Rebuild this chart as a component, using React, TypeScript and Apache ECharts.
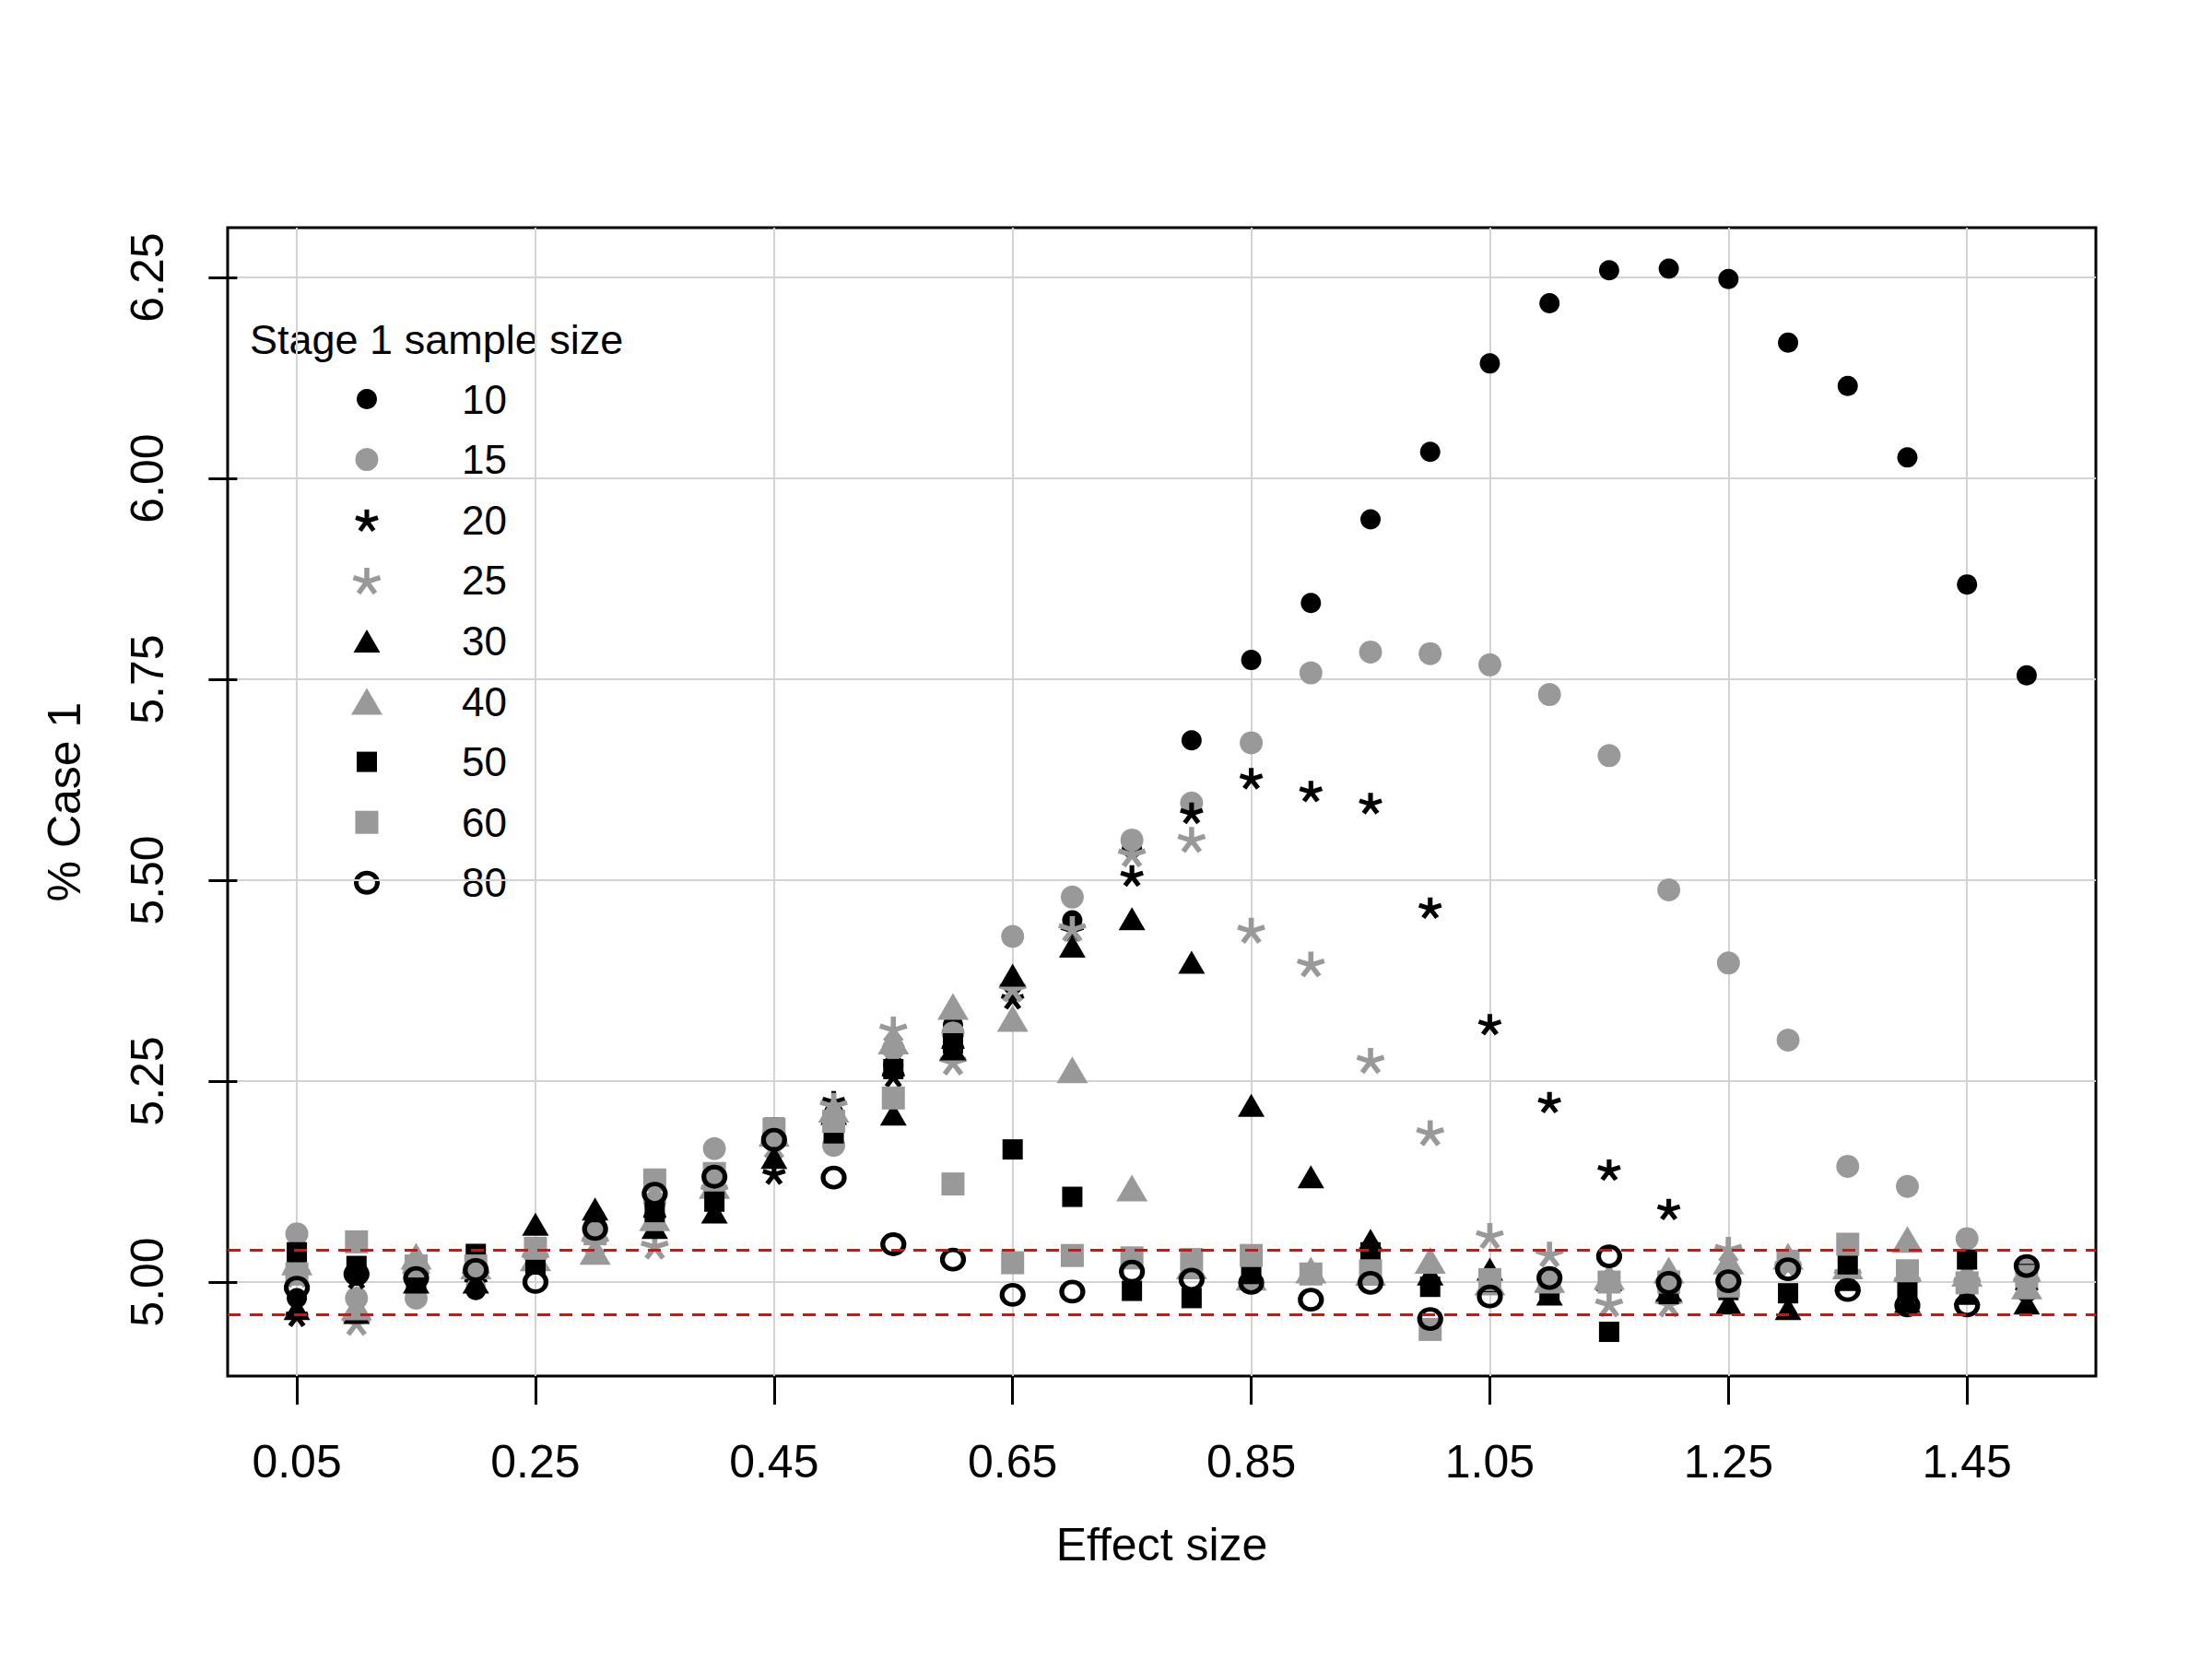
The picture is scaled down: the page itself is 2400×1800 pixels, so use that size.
import React, { useEffect, useRef } from "react";
import * as echarts from "echarts";

// ---- data ----
const effectSizes = [
  0.05, 0.1, 0.15, 0.2, 0.25, 0.3, 0.35, 0.4, 0.45, 0.5,
  0.55, 0.6, 0.65, 0.7, 0.75, 0.8, 0.85, 0.9, 0.95, 1.0,
  1.05, 1.1, 1.15, 1.2, 1.25, 1.3, 1.35, 1.4, 1.45, 1.5,
];
const n10 = [4.98, 5.01, 5.0, 4.99, 5.04, 5.08, 5.1, 5.12, 5.18, 5.21, 5.27, 5.32, 5.37, 5.45, 5.54, 5.674, 5.774, 5.845, 5.949, 6.033, 6.143, 6.218, 6.259, 6.261, 6.248, 6.169, 6.115, 6.026, 5.868, 5.755];
const n15 = [5.06, 4.98, 4.98, 5.01, 5.035, 5.07, 5.1, 5.166, 5.185, 5.17, 5.29, 5.31, 5.43, 5.479, 5.55, 5.596, 5.671, 5.758, 5.784, 5.782, 5.768, 5.731, 5.655, 5.488, 5.397, 5.301, 5.144, 5.119, 5.054, 5.02];
const n20 = [4.958, 5.005, 5.0, 5.0, 5.03, 5.06, 5.08, 5.11, 5.135, 5.225, 5.256, 5.29, 5.353, 5.438, 5.506, 5.584, 5.627, 5.611, 5.596, 5.466, 5.321, 5.224, 5.14, 5.091, 5.04, 5.02, 5.01, 5.0, 5.0, 4.99];
const n25 = [5.01, 4.95, 5.01, 5.01, 5.03, 5.05, 5.045, 5.115, 5.17, 5.22, 5.315, 5.274, 5.365, 5.44, 5.533, 5.551, 5.438, 5.396, 5.276, 5.186, 5.058, 5.035, 4.973, 4.973, 5.041, 5.02, 5.01, 5.0, 5.0, 5.0];
const n30 = [4.967, 4.962, 5.0, 5.0, 5.072, 5.091, 5.068, 5.087, 5.155, 5.21, 5.209, 5.29, 5.382, 5.418, 5.452, 5.398, 5.22, 5.131, 5.052, 5.01, 5.016, 4.985, 5.003, 4.99, 4.974, 4.967, 5.003, 4.976, 4.986, 4.974];
const n40 = [5.025, 4.969, 5.032, 5.02, 5.03, 5.038, 5.08, 5.12, 5.185, 5.215, 5.3, 5.343, 5.328, 5.264, 5.117, 5.02, 5.006, 5.015, 5.012, 5.027, 5.0, 5.003, 5.007, 5.015, 5.026, 5.032, 5.02, 5.053, 5.011, 4.995];
const n50 = [5.037, 5.02, 5.0, 5.035, 5.022, 5.07, 5.087, 5.1, 5.192, 5.185, 5.265, 5.297, 5.165, 5.106, 4.989, 4.98, 5.01, 5.01, 5.037, 4.994, 5.0, 4.99, 4.938, 4.985, 4.99, 4.986, 5.022, 4.988, 5.028, 5.01];
const n60 = [5.01, 5.05, 5.02, 5.02, 5.042, 5.06, 5.127, 5.135, 5.19, 5.2, 5.229, 5.122, 5.024, 5.033, 5.03, 5.028, 5.033, 5.01, 5.014, 4.941, 5.003, 5.0, 5.0, 5.0, 4.995, 5.026, 5.047, 5.014, 4.999, 5.007];
const n80 = [4.993, 5.01, 5.005, 5.015, 5.0, 5.066, 5.11, 5.131, 5.177, 5.13, 5.047, 5.028, 4.984, 4.988, 5.013, 5.003, 4.999, 4.978, 4.999, 4.954, 4.982, 5.005, 5.032, 4.999, 5.001, 5.016, 4.99, 4.971, 4.971, 5.02];

const xTicks = [0.05, 0.25, 0.45, 0.65, 0.85, 1.05, 1.25, 1.45];
const yTicks = [5.0, 5.25, 5.5, 5.75, 6.0, 6.25];
const refLines = [5.042, 4.956];
const groupLabels = ["10", "15", "20", "25", "30", "40", "50", "60", "80"];
const groupData = [n10, n15, n20, n25, n30, n40, n50, n60, n80];

// ---- style ----
const FONT = "'Liberation Sans', Arial, sans-serif";
const BLACK = "#000000";
const GRAY = "#999999";
const ARMS: [number, number][] = [
  [0, -1],
  [0.9511, -0.309],
  [0.5878, 0.809],
  [-0.5878, 0.809],
  [-0.9511, -0.309],
];
const ASTERISK =
  "path://" + ARMS.map(([dx, dy]) => `M0,0L${dx * 10},${dy * 10}`).join("");
const OPEN_O =
  "path://M0,-10C5.52,-10 10,-5.52 10,0C10,5.52 5.52,10 0,10C-5.52,10 -10,5.52 -10,0C-10,-5.52 -5.52,-10 0,-10Z";

type Spec = { kind: string; w: number; h: number; color: string; stroke?: number };
const specs: Spec[] = [
  { kind: "circle", w: 22, h: 22, color: BLACK },
  { kind: "circle", w: 25, h: 25, color: GRAY },
  { kind: "asterisk", w: 24, h: 23, color: BLACK, stroke: 5 },
  { kind: "asterisk", w: 29, h: 28, color: GRAY, stroke: 5.5 },
  { kind: "triangle", w: 29, h: 25, color: BLACK },
  { kind: "triangle", w: 34, h: 29, color: GRAY },
  { kind: "rect", w: 22, h: 22, color: BLACK },
  { kind: "rect", w: 25, h: 25, color: GRAY },
  { kind: "open", w: 23, h: 21, color: BLACK, stroke: 5 },
];

function seriesFor(i: number): any {
  const sp = specs[i];
  const data = effectSizes.map((x, k) => [x, groupData[i][k]]);
  const base: any = {
    type: "scatter",
    name: groupLabels[i],
    data,
    z: 3,
    silent: true,
    symbolSize: [sp.w, sp.h],
    symbolKeepAspect: false,
  };
  if (sp.kind === "circle" || sp.kind === "rect" || sp.kind === "triangle") {
    base.symbol = sp.kind;
    base.itemStyle = { color: sp.color, opacity: 1 };
  } else if (sp.kind === "asterisk") {
    base.symbol = ASTERISK;
    base.symbolKeepAspect = true;
    base.itemStyle = { color: sp.color, borderColor: sp.color, borderWidth: sp.stroke, opacity: 1 };
  } else {
    base.symbol = OPEN_O;
    base.itemStyle = { color: "rgba(0,0,0,0)", borderColor: sp.color, borderWidth: sp.stroke, opacity: 1 };
  }
  return base;
}

// legend layout
const LEG_TITLE_X = 271;
const LEG_TITLE_Y = 368;
const LEG_SYM_X = 398;
const LEG_NUM_X = 550;
const LEG_ROW0 = 433;
const LEG_ROW_GAP = 65.6;

function legendIcon(sp: Spec, cx: number, cy: number): any {
  if (sp.kind === "circle") {
    return { type: "circle", shape: { cx, cy, r: sp.w / 2 }, style: { fill: sp.color } };
  }
  if (sp.kind === "rect") {
    return { type: "rect", shape: { x: cx - sp.w / 2, y: cy - sp.h / 2, width: sp.w, height: sp.h }, style: { fill: sp.color } };
  }
  if (sp.kind === "triangle") {
    return {
      type: "polygon",
      shape: { points: [[cx, cy - sp.h / 2], [cx + sp.w / 2, cy + sp.h / 2], [cx - sp.w / 2, cy + sp.h / 2]] },
      style: { fill: sp.color },
    };
  }
  if (sp.kind === "asterisk") {
    const s = sp.w / 1.9022;
    const oy = cy + 0.0955 * s;
    return {
      type: "group",
      children: ARMS.map(([dx, dy]) => ({
        type: "line",
        shape: { x1: cx, y1: oy, x2: cx + dx * s, y2: oy + dy * s },
        style: { stroke: sp.color, lineWidth: sp.stroke },
      })),
    };
  }
  return {
    type: "ellipse",
    shape: { cx, cy, rx: sp.w / 2, ry: sp.h / 2 },
    style: { fill: "none", stroke: sp.color, lineWidth: sp.stroke },
  };
}

function buildLegend(): any[] {
  const els: any[] = [
    {
      type: "text",
      x: LEG_TITLE_X,
      y: LEG_TITLE_Y,
      style: { text: "Stage 1 sample size", fill: BLACK, font: `45px ${FONT}`, align: "left", verticalAlign: "middle" },
    },
  ];
  groupLabels.forEach((lab, i) => {
    const cy = LEG_ROW0 + i * LEG_ROW_GAP;
    els.push(legendIcon(specs[i], LEG_SYM_X, cy));
    els.push({
      type: "text",
      x: LEG_NUM_X,
      y: cy,
      style: { text: lab, fill: BLACK, font: `44px ${FONT}`, align: "right", verticalAlign: "middle" },
    });
  });
  return els;
}

export default function App() {
  const ref = useRef<HTMLDivElement>(null);
  useEffect(() => {
    const el = ref.current;
    if (!el) return;
    const chart = echarts.init(el, null, { renderer: "svg" });
    const series = groupLabels.map((_, i) => seriesFor(i));
    series.push({
      type: "scatter",
      name: "ref",
      data: [],
      silent: true,
      z: 4,
      markLine: {
        silent: true,
        symbol: ["none", "none"],
        label: { show: false },
        animation: false,
        lineStyle: { color: "#ff0000", type: [14, 10], width: 3, opacity: 1 },
        data: refLines.map((v) => ({ yAxis: v })),
      },
    });
    const option: any = {
      animation: false,
      backgroundColor: "#ffffff",
      textStyle: { fontFamily: FONT },
      grid: {
        left: 247,
        right: 126,
        top: 247,
        bottom: 307,
        show: true,
        borderColor: BLACK,
        borderWidth: 3,
        backgroundColor: "rgba(0,0,0,0)",
        containLabel: false,
        outerBoundsMode: "none",
      },
      xAxis: {
        type: "value",
        min: -0.008,
        max: 1.558,
        name: "Effect size",
        nameLocation: "middle",
        nameGap: 158,
        nameTextStyle: { fontSize: 50, color: BLACK, fontFamily: FONT },
        axisLine: { show: false },
        axisTick: { show: true, inside: false, length: 31, lineStyle: { color: BLACK, width: 3 }, customValues: xTicks },
        axisLabel: {
          show: true,
          customValues: xTicks,
          formatter: (v: number) => v.toFixed(2),
          fontSize: 50,
          color: BLACK,
          fontFamily: FONT,
          margin: 68,
        },
        splitLine: { show: true, lineStyle: { color: "#d3d3d3", width: 2 } },
      },
      yAxis: {
        type: "value",
        min: 4.883,
        max: 6.312,
        name: "% Case 1",
        nameLocation: "middle",
        nameRotate: 90,
        nameGap: 152,
        nameTextStyle: { fontSize: 50, color: BLACK, fontFamily: FONT },
        axisLine: { show: false },
        axisTick: { show: true, inside: false, length: 31, lineStyle: { color: BLACK, width: 3 }, customValues: yTicks },
        axisLabel: {
          show: true,
          customValues: yTicks,
          formatter: (v: number) => v.toFixed(2),
          fontSize: 50,
          color: BLACK,
          fontFamily: FONT,
          rotate: 90,
          margin: 62,
        },
        splitLine: { show: true, lineStyle: { color: "#d3d3d3", width: 2 } },
      },
      series,
      graphic: buildLegend(),
    };
    chart.setOption(option);
    return () => chart.dispose();
  }, []);
  return (
    <div
      ref={ref}
      style={{ position: "fixed", left: 0, top: 0, width: 2400, height: 1800, background: "#fff" }}
    />
  );
}
